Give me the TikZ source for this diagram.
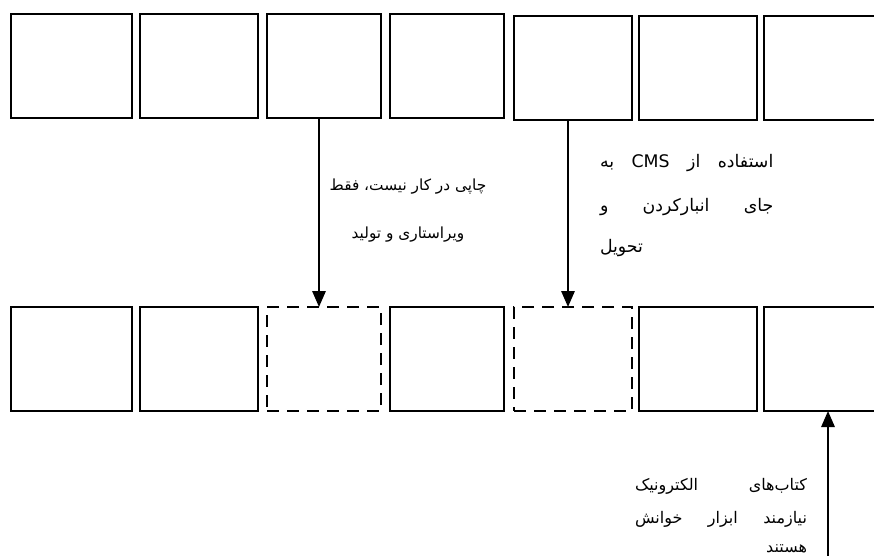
\documentclass[tikz,border=0pt]{standalone}
\usepackage{fontspec}
\usetikzlibrary{arrows.meta,positioning}
\newfontfamily\arabicfont[Script=Arabic]{DejaVu Sans}
\TeXXeTstate=1

\begin{document}
\begin{tikzpicture}[
  x=0.75pt,y=-0.75pt,
  every node/.style={inner sep=0pt,outer sep=0pt},
  box/.style={draw,line width=2pt,minimum width=#1*0.75pt,minimum height=78pt},
  box/.default=118,
  gapbox/.style={box=#1,dash pattern=on 9pt off 6pt},
  gapbox/.default=114,
  note/.style={font=\arabicfont\fontsize{#1}{#1}\selectfont},
  arr/.style={-{Triangle[length=12pt,width=10pt]},line width=1.5pt}
]
\clip (0,0) rectangle (874,556);

% Top row
\node[box=121] (t1) at (71.5,66) {};
\node[box] (t2) at (199,66) {};
\node[box=114] (t3) at (324,66) {};
\node[box=114] (t4) at (447,66) {};
\node[box] (t5) at (573,68) {};
\node[box] (t6) at (698,68) {};
\node[box] (t7) at (823,68) {};

% Bottom row
\node[box=121] (b1) at (71.5,359) {};
\node[box] (b2) at (199,359) {};
\node[gapbox] (b3) at (324,359) {};
\node[box=114] (b4) at (447,359) {};
\node[gapbox=118] (b5) at (573,359) {};
\node[box] (b6) at (698,359) {};
\node[box] (b7) at (823,359) {};

% Arrows
\draw[arr] ([xshift=-3.75pt]t3.south) -- ([xshift=-3.75pt]b3.north);
\draw[arr] ([xshift=-3.75pt]t5.south) -- ([xshift=-3.75pt]b5.north);
\coordinate (ebook) at (828,560);
\draw[arr] (ebook) -- (ebook |- b7.south);

% Labels
\node[note=11.5,align=center,anchor=north] (print) at (408,179)
  {\beginR چاپی در کار نیست، فقط\endR\\[23pt]\beginR ویراستاری و تولید\endR};
\node[note=13,align=left,anchor=north west] (cms) at (600,154)
  {\makebox[130pt][s]{\beginR استفاده از CMS به\endR}\\[19pt]\makebox[130pt][s]{\beginR جای انبارکردن و\endR}\\[17pt]\beginR تحویل\endR};
\node[note=12,align=right,anchor=north east] (read) at (807,478)
  {\makebox[129pt][s]{\beginR کتاب‌های الکترونیک\endR}\\[12pt]\makebox[129pt][s]{\beginR نیازمند ابزار خوانش\endR}\\[10pt]\beginR هستند\endR};
\end{tikzpicture}
\end{document}
